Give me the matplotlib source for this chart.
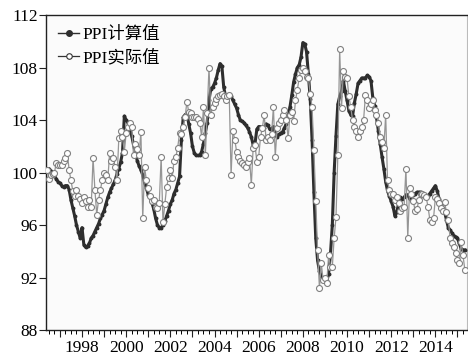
import matplotlib
matplotlib.use("Agg")
import matplotlib.pyplot as plt
import numpy as np
from matplotlib.ticker import FixedLocator, MultipleLocator

plt.rcParams['font.family'] = ['Liberation Serif', 'Noto Sans CJK SC']

# monthly data, June 1996 .. May 2015
start_year = 1996 + 5 / 12.0

ppi_calc = [
    100.3, 100.3, 100.1, 99.9, 99.8, 99.5, 99.3,                                  # 1996
    99.2, 99.0, 98.9, 99.0, 99.0, 98.7, 97.9, 97.3, 96.7, 96.0, 95.5, 95.0,       # 1997
    95.8, 94.5, 94.3, 94.4, 94.6, 95.0, 95.2, 95.5, 95.8, 96.1, 96.5, 96.8,       # 1998
    97.1, 97.6, 98.1, 98.5, 98.8, 99.1, 99.4, 99.9, 100.3, 100.8, 101.5, 104.3,   # 1999
    104.0, 103.8, 103.4, 102.8, 102.1, 101.5, 100.9, 100.5, 100.2, 99.8, 99.2, 98.8,  # 2000
    98.3, 98.1, 97.7, 97.2, 96.5, 96.0, 95.8, 95.8, 96.0, 96.3, 96.7, 97.1,       # 2001
    97.6, 97.9, 98.4, 98.7, 99.2, 99.7, 102.5, 104.2, 104.4, 104.5, 103.7, 103.0, # 2002
    102.0, 101.5, 101.3, 101.3, 101.3, 101.6, 102.2, 103.0, 103.8, 105.5, 106.4, 106.5,  # 2003
    106.8, 107.2, 107.8, 108.3, 108.1, 106.5, 105.8, 105.5, 105.8, 105.8, 105.5, 105.2,  # 2004
    104.9, 104.4, 104.0, 103.9, 103.8, 103.6, 103.4, 103.1, 102.7, 102.1, 102.2, 103.3,  # 2005
    103.5, 103.5, 103.3, 103.4, 103.7, 103.6, 103.3, 103.3, 103.5, 103.0, 102.7, 102.9,  # 2006
    103.0, 103.1, 103.4, 103.7, 104.2, 105.0, 105.9, 106.9, 107.5, 108.0, 108.2, 108.8,  # 2007
    109.9, 109.8, 109.2, 107.5, 105.6, 102.5, 98.5, 95.0, 93.3, 92.5, 92.1, 91.9,        # 2008
    91.8, 91.7, 92.3, 93.8, 96.0, 100.0, 102.8, 105.2, 105.8, 106.2, 107.0, 106.2,       # 2009
    105.5, 104.7, 104.4, 104.3, 105.3, 106.0, 106.8, 107.0, 107.2, 107.2, 107.2, 107.4,  # 2010
    107.3, 107.0, 105.7, 105.1, 104.2, 103.2, 102.2, 101.2, 100.3, 99.3, 98.6, 98.2,     # 2011
    97.8, 97.4, 96.7, 97.0, 97.6, 98.1, 98.0, 98.1, 98.3, 98.3, 98.0, 98.2,             # 2012
    98.3, 98.4, 98.5, 98.5, 98.5, 98.4, 98.3, 98.2, 98.2, 98.4, 98.6, 98.8,             # 2013
    99.0, 98.6, 98.0, 97.6, 97.3, 97.0, 96.4, 95.8, 95.6, 95.4, 95.2, 95.1,             # 2014
    95.0, 94.6, 94.2, 94.1, 94.1,                                                        # 2015
]

ppi_actual = [
    100.2, 99.5, 99.8, 99.9, 100.0, 100.7, 100.6,
    100.6, 100.6, 100.9, 101.1, 101.5, 100.2, 99.4, 98.6, 98.2, 98.7, 98.2, 98.0,
    97.7, 98.1, 97.8, 97.4, 97.9, 97.4, 101.1, 98.7, 96.8, 97.9, 98.7, 99.4,
    100.0, 99.8, 99.4, 101.5, 100.9, 101.1, 100.4, 99.4, 102.6, 103.2, 102.7, 101.6,
    103.0, 103.5, 103.8, 103.5, 101.3, 102.2, 101.8, 101.3, 103.1, 96.5, 100.4, 99.4,
    98.8, 98.2, 97.8, 97.9, 97.4, 97.3, 97.7, 101.2, 96.2, 97.6, 98.9, 99.6,
    100.2, 99.6, 100.9, 101.2, 101.9, 103.0, 102.9, 103.5, 104.2, 105.4, 104.6, 104.5,
    104.2, 104.2, 104.2, 104.1, 103.8, 102.7, 105.0, 101.3, 104.5, 108.0, 104.4, 105.0,
    105.3, 105.6, 105.8, 105.9, 106.0, 105.8, 105.5, 105.8, 105.9, 99.8, 103.2, 102.5,
    101.6, 101.2, 100.9, 100.7, 100.6, 100.4, 100.8, 101.1, 99.05, 101.9, 102.1, 100.8,
    101.2, 102.7, 103.4, 104.4, 102.5, 102.7, 102.5, 102.9, 105.0, 101.2, 103.4, 103.8,
    104.0, 104.4, 104.8, 104.0, 102.6, 104.4, 104.6, 103.9, 105.5, 106.3, 107.2, 107.8,
    108.0, 107.7, 107.3, 107.2, 106.0, 105.0, 101.7, 97.8, 94.1, 91.2, 93.1, 91.8,
    92.0, 91.6, 93.7, 92.8, 92.8, 95.0, 96.6, 101.3, 109.4, 104.9, 107.7, 107.3,
    107.2, 105.8, 105.0, 104.0, 103.5, 103.2, 102.7, 103.2, 103.5, 104.0, 105.9, 105.5,
    104.9, 105.2, 105.5, 104.8, 104.4, 103.8, 102.7, 102.3, 101.9, 104.4, 99.4, 98.7,
    98.4, 98.4, 97.9, 98.1, 97.7, 97.1, 97.3, 97.4, 100.3, 95.0, 98.8, 98.4,
    97.8, 97.1, 97.2, 97.9, 98.4, 98.4, 98.3, 98.1, 97.4, 96.4, 96.2, 96.5,
    98.1, 98.0, 97.7, 97.3, 97.1, 97.75, 97.0, 96.4, 95.0, 94.6, 94.3, 93.9,
    93.3, 93.1, 94.7, 93.7, 92.6,
]

label_years = [1998, 2000, 2002, 2004, 2006, 2008, 2010, 2012, 2014]
y_ticks = [88, 92, 96, 100, 104, 108, 112]

t = start_year + np.arange(len(ppi_calc)) / 12.0

fig = plt.figure(figsize=(4.68, 3.6), dpi=100)
ax = fig.add_axes([0.0983, 0.0833, 0.899, 0.875])
ax.set_facecolor('#fbfbfb')

ax.plot(t, ppi_calc, color='#2e2e2e', lw=2.2, marker='o', ms=1.8,
        mfc='#2e2e2e', mec='#2e2e2e', label='PPI计算值', zorder=3)
ax.plot(t, ppi_actual, color='#959595', lw=0.9, marker='o', ms=4.3,
        mfc='white', mec='#808080', mew=0.8, label='PPI实际值', zorder=4)

ax.set_xlim(1996.37, 2015.42)
ax.set_ylim(88, 112)
ax.set_yticks(y_ticks)
ax.xaxis.set_major_locator(FixedLocator(list(range(1997, 2016))))
ax.set_xticklabels([str(y) if y in label_years else '' for y in range(1997, 2016)])
ax.xaxis.set_minor_locator(MultipleLocator(0.25))
ax.tick_params(axis='both', labelsize=12.5, color='#222222', width=0.8)
ax.tick_params(axis='x', which='major', length=5, pad=2)
ax.tick_params(axis='x', which='minor', length=3, width=0.7)
ax.tick_params(axis='y', length=5, pad=1)

for s in ['left', 'top', 'bottom']:
    ax.spines[s].set_color('#222222')
    ax.spines[s].set_linewidth(1.0)
ax.spines['right'].set_color('#bbbbbb')

leg = ax.legend(loc='upper left', frameon=False, fontsize=12.5, handlelength=1.2,
                handletextpad=0.2, labelspacing=0.35, borderaxespad=0.3,
                bbox_to_anchor=(0.0, 1.0))
leg.legend_handles[0].set_markersize(4)
leg.legend_handles[0].set_linewidth(1.0)
leg.legend_handles[1].set_markersize(4)
leg.legend_handles[1].set_color('#333333')
leg.legend_handles[1].set_markeredgecolor('#333333')

fig.savefig('out.png', dpi=100)
